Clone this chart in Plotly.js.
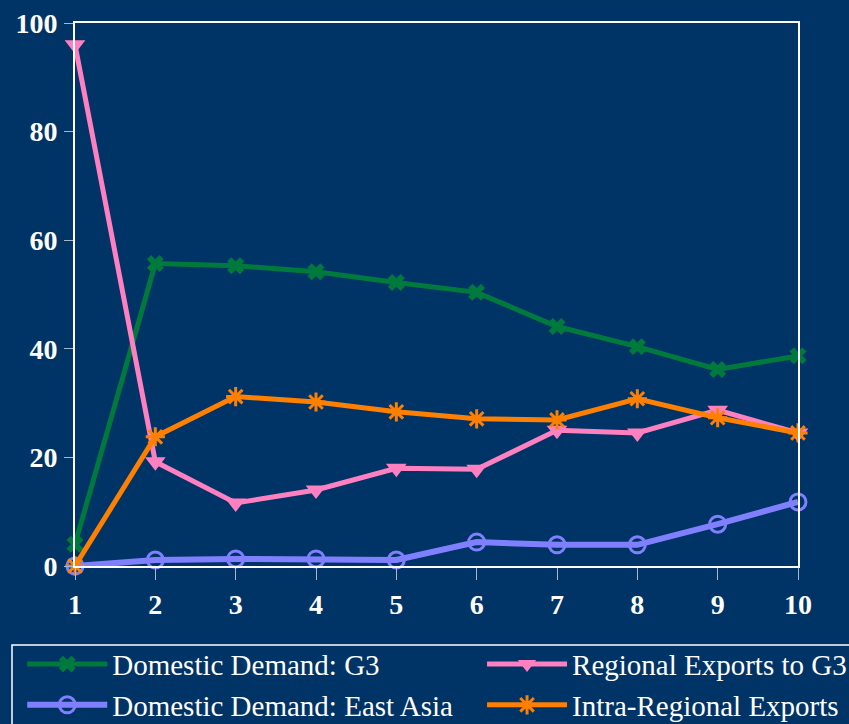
<!DOCTYPE html>
<html>
<head>
<meta charset="utf-8">
<script src="https://cdn.plot.ly/plotly-3.0.1.min.js"></script>
<style>html,body{margin:0;padding:0;background:#003366;}#chart{width:849px;height:724px;}</style>
</head>
<body>
<div id="chart"></div>
<script>
const periods = [1, 2, 3, 4, 5, 6, 7, 8, 9, 10];
const domesticG3 = [4, 55.7, 55.3, 54.2, 52.2, 50.4, 44.1, 40.4, 36.2, 38.7];
const domesticEastAsia = [0, 1.1, 1.3, 1.3, 1.1, 4.4, 3.9, 3.9, 7.7, 11.8];
const regionalExportsG3 = [96, 19.2, 11.6, 14.0, 18.0, 17.8, 25.0, 24.5, 28.7, 24.5];
const intraRegional = [0, 23.8, 31.2, 30.2, 28.4, 27.1, 26.9, 30.8, 27.3, 24.5];
const yTicks = [0, 20, 40, 60, 80, 100];

const serif = '"Liberation Serif", "Times New Roman", serif';

const traces = [
  {x: periods, y: domesticG3, name: 'Domestic Demand: G3', mode: 'lines+markers', legend: 'legend',
   line: {color: '#00793D', width: 5}, marker: {symbol: 'x', size: 15, color: '#00793D'}, cliponaxis: false, legendrank: 1},
  {x: periods, y: domesticEastAsia, name: 'Domestic Demand: East Asia', mode: 'lines+markers', legend: 'legend',
   line: {color: '#8080FF', width: 6}, marker: {symbol: 'circle-open', size: 16, color: '#8080FF', line: {width: 3, color: '#8080FF'}}, cliponaxis: false, legendrank: 2},
  {x: periods, y: regionalExportsG3, name: 'Regional Exports to G3', mode: 'lines+markers', legend: 'legend2',
   line: {color: '#FF80C0', width: 5}, marker: {symbol: 'triangle-down', size: 18, color: '#FF80C0'}, cliponaxis: false, legendrank: 1},
  {x: periods, y: intraRegional, name: 'Intra-Regional Exports', mode: 'lines+markers', legend: 'legend2',
   line: {color: '#FF8000', width: 5}, marker: {symbol: 'asterisk-open', size: 16, color: '#FF8000', line: {width: 3, color: '#FF8000'}}, cliponaxis: false, legendrank: 2}
];

const legendCommon = {
  font: {family: serif, size: 29, color: '#FFFFFF'},
  bgcolor: 'rgba(0,0,0,0)', borderwidth: 0, itemwidth: 80,
  xanchor: 'left', yanchor: 'top', orientation: 'v', tracegroupgap: 0
};

const layout = {
  width: 849, height: 724,
  paper_bgcolor: '#003366', plot_bgcolor: '#003366',
  margin: {l: 75, r: 51, t: 23, b: 158, autoexpand: false},
  showlegend: true,
  legend: Object.assign({}, legendCommon, {x: -0.073, y: -0.134}),
  legend2: Object.assign({}, legendCommon, {x: 0.563, y: -0.134}),
  xaxis: {
    range: [1, 10], tickvals: periods, ticktext: periods.map(String),
    showgrid: false, zeroline: false, showline: true, mirror: true,
    linecolor: '#FFFFFF', linewidth: 2,
    ticks: 'outside', ticklen: 12, tickwidth: 1, tickcolor: '#A8B8CC',
    ticklabelstandoff: 0,
    tickfont: {family: serif, size: 28, color: '#FFFFFF', weight: 'bold'}
  },
  yaxis: {
    range: [0, 100], tickvals: yTicks, ticktext: yTicks.map(String),
    showgrid: false, zeroline: false, showline: true, mirror: true,
    linecolor: '#FFFFFF', linewidth: 2,
    ticks: 'outside', ticklen: 9, tickwidth: 1, tickcolor: '#A8B8CC',
    ticklabelstandoff: 1,
    tickfont: {family: serif, size: 28, color: '#FFFFFF', weight: 'bold'}
  },
  shapes: [{
    type: 'rect', xref: 'paper', yref: 'paper',
    x0: (12 - 75) / 723, x1: (860 - 75) / 723,
    y0: (566 - 645) / 543, y1: (566 - 740) / 543,
    line: {color: '#FFFFFF', width: 1.5}, fillcolor: 'rgba(0,0,0,0)'
  }]
};

Plotly.newPlot('chart', traces, layout, {displayModeBar: false, staticPlot: true});
</script>
</body>
</html>
